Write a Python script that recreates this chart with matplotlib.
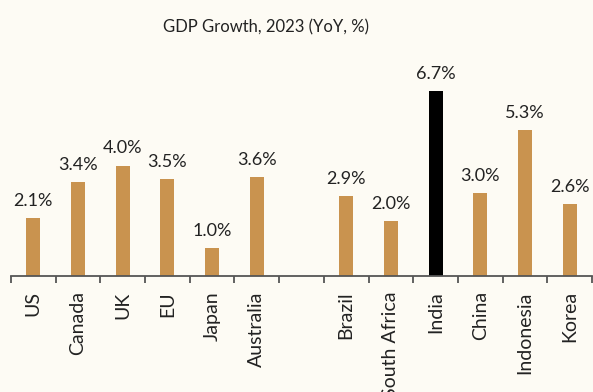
import matplotlib.pyplot as plt
import numpy as np

plt.rcParams['font.family'] = ['Lato', 'DejaVu Sans']

countries = ['US', 'Canada', 'UK', 'EU', 'Japan', 'Australia', '',
             'Brazil', 'South Africa', 'India', 'China', 'Indonesia', 'Korea']
growth = [2.1, 3.4, 4.0, 3.5, 1.0, 3.6, None, 2.9, 2.0, 6.7, 3.0, 5.3, 2.6]
highlight = 'India'

bg = '#fdfbf4'
fig = plt.figure(figsize=(5.93, 3.92), dpi=100, facecolor=bg)
ax = fig.add_axes([11/593, 1 - 276/392, 581/593, 207/392], facecolor=bg)

x = np.arange(len(countries))
for i, (c, v) in enumerate(zip(countries, growth)):
    if v is None:
        continue
    col = '#000000' if c == highlight else '#c9934f'
    ax.bar(i, v, width=0.31, color=col)
    ax.text(i, v + 0.33, '%.1f%%' % v, ha='center', va='bottom', fontsize=13, color='#222222')

ax.set_xlim(-0.5, len(countries) - 0.5)
ax.set_ylim(0, 7.5)
ax.set_xticks(x)
ax.set_xticklabels(countries, rotation=90, fontsize=14, color='#222222')
ax.set_xticks(np.arange(-0.5, len(countries), 1), minor=True)
ax.tick_params(axis='x', which='major', length=0, pad=11)
ax.tick_params(axis='x', which='minor', length=5, width=1.3, color='#555555', direction='out')
ax.set_yticks([])
for s in ['top', 'right', 'left']:
    ax.spines[s].set_visible(False)
ax.spines['bottom'].set_color('#555555')
ax.spines['bottom'].set_linewidth(1.3)

fig.text(266/593, 1 - 27/392, 'GDP Growth, 2023 (YoY, %)', ha='center', va='center', fontsize=12, color='#222222')

fig.savefig('out.png', dpi=100, facecolor=bg)
